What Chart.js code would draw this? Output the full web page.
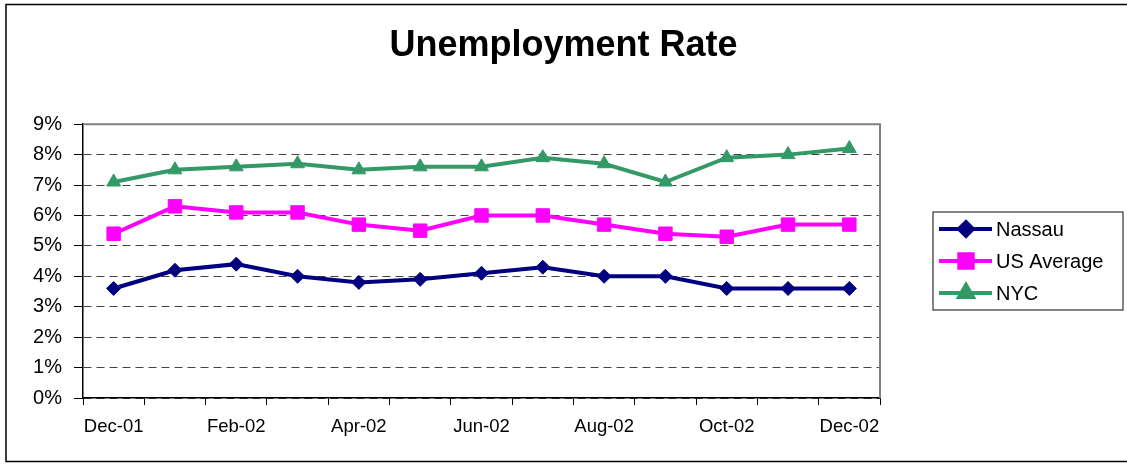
<!DOCTYPE html>
<html>
<head>
<meta charset="utf-8">
<script src="https://cdn.jsdelivr.net/npm/chart.js@4/dist/chart.umd.min.js"></script>
<style>
  html, body { margin: 0; padding: 0; background: #fff; }
  #wrap { width: 1127px; height: 465px; position: relative; }
</style>
</head>
<body>
<div id="wrap"><canvas id="chart"></canvas></div>
<script>
// months on the x axis
const months = ['Dec-01', 'Jan-02', 'Feb-02', 'Mar-02', 'Apr-02', 'May-02', 'Jun-02',
  'Jul-02', 'Aug-02', 'Sep-02', 'Oct-02', 'Nov-02', 'Dec-02'];

// unemployment rate, percent
const nassau = [3.6, 4.2, 4.4, 4.0, 3.8, 3.9, 4.1, 4.3, 4.0, 4.0, 3.6, 3.6, 3.6];
const usAverage = [5.4, 6.3, 6.1, 6.1, 5.7, 5.5, 6.0, 6.0, 5.7, 5.4, 5.3, 5.7, 5.7];
const nyc = [7.1, 7.5, 7.6, 7.7, 7.5, 7.6, 7.6, 7.9, 7.7, 7.1, 7.9, 8.0, 8.2];

const yTicks = [0, 1, 2, 3, 4, 5, 6, 7, 8, 9];

const FONT = 'Arial, "Liberation Sans", sans-serif';

// outer frame + grey top/right edge of the plot area
const framePlugin = {
  id: 'frame',
  beforeDraw(chart) {
    const ctx = chart.ctx;
    ctx.save();
    ctx.fillStyle = '#fff';
    ctx.fillRect(0, 0, chart.width, chart.height);
    ctx.strokeStyle = '#000';
    ctx.lineWidth = 1.5;
    ctx.strokeRect(6, 4.5, chart.width + 10, 457);
    ctx.restore();
  },
  afterDatasetsDraw(chart) {
    const { ctx, chartArea: a } = chart;
    ctx.save();
    ctx.strokeStyle = '#808080';
    ctx.lineWidth = 2;
    ctx.beginPath();
    ctx.moveTo(a.left, a.top);
    ctx.lineTo(a.right, a.top);
    ctx.lineTo(a.right, a.bottom);
    ctx.stroke();
    ctx.restore();
  }
};

// legend box on the right, line sample with marker in the middle
const legendPlugin = {
  id: 'boxLegend',
  afterDraw(chart) {
    const ctx = chart.ctx;
    const x0 = 933, y0 = 212, w = 190, h = 98;
    ctx.save();
    ctx.strokeStyle = '#333';
    ctx.lineWidth = 1.2;
    ctx.strokeRect(x0, y0, w, h);
    ctx.font = '20px ' + FONT;
    ctx.textBaseline = 'middle';
    chart.data.datasets.forEach((ds, i) => {
      const cy = y0 + 17 + i * 32;
      ctx.strokeStyle = ds.borderColor;
      ctx.lineWidth = 4;
      ctx.beginPath();
      ctx.moveTo(939, cy);
      ctx.lineTo(992, cy);
      ctx.stroke();
      Chart.helpers.drawPoint(ctx, {
        pointStyle: ds.pointStyle,
        radius: ds.pointRadius,
        borderWidth: 1
      }, 966, cy);
      ctx.fillStyle = ds.borderColor;
      ctx.strokeStyle = ds.borderColor;
      ctx.lineWidth = 1;
      ctx.fill();
      ctx.stroke();
      ctx.fillStyle = '#000';
      ctx.fillText(ds.label, 996, cy + 1);
    });
    ctx.restore();
  }
};

function series(label, data, color, style, radius) {
  return {
    label: label,
    data: data,
    borderColor: color,
    backgroundColor: color,
    borderWidth: 4,
    pointStyle: style,
    pointRadius: radius,
    pointHoverRadius: radius,
    pointBorderWidth: 1,
    pointBackgroundColor: color,
    pointBorderColor: color,
    tension: 0
  };
}

new Chart(document.getElementById('chart'), {
  type: 'line',
  data: {
    labels: months,
    datasets: [
      series('Nassau', nassau, '#000080', 'rectRot', 7),
      series('US Average', usAverage, '#FF00FF', 'rect', 9.5),
      series('NYC', nyc, '#339966', 'triangle', 8)
    ]
  },
  options: {
    responsive: true,
    maintainAspectRatio: false,
    animation: false,
    layout: { padding: 0 },
    plugins: {
      legend: { display: false },
      tooltip: { enabled: false },
      title: {
        display: true,
        text: 'Unemployment Rate',
        color: '#000',
        font: { family: FONT, size: 36, weight: 'bold' },
        padding: { top: 24, bottom: 57 }
      }
    },
    scales: {
      x: {
        offset: true,
        grid: {
          offset: true,
          drawOnChartArea: false,
          drawTicks: true,
          tickLength: 7,
          tickColor: '#000',
          tickWidth: 1
        },
        border: { color: '#000', width: 1.5 },
        ticks: {
          autoSkip: false,
          maxRotation: 0,
          padding: 11,
          color: '#000',
          font: { family: FONT, size: 18.5 },
          callback: (v, i) => (i % 2 === 0 ? months[i] : '')
        },
        afterFit(scale) { scale.height = 67; }
      },
      y: {
        min: 0,
        max: 9,
        afterBuildTicks(scale) { scale.ticks = yTicks.map(v => ({ value: v })); },
        grid: {
          color: '#444',
          lineWidth: 1,
          tickLength: 9,
          tickColor: '#000',
          tickWidth: 1,
          tickBorderDash: []
        },
        border: { color: '#000', width: 1.5, dash: [8, 5] },
        ticks: {
          padding: 12,
          color: '#000',
          font: { family: FONT, size: 20 },
          callback: v => v + '%'
        },
        afterFit(scale) { scale.width = 83; }
      },
      // empty right-hand axis that keeps room for the legend box
      spacer: {
        type: 'linear',
        position: 'right',
        display: true,
        grid: { display: false },
        border: { display: false },
        ticks: { display: false },
        afterFit(scale) { scale.width = 247; }
      }
    }
  },
  plugins: [framePlugin, legendPlugin]
});
</script>
</body>
</html>
